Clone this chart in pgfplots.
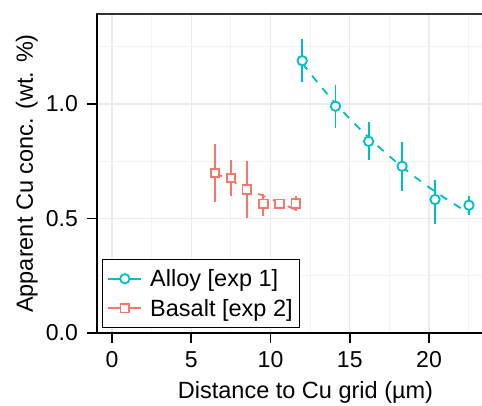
\documentclass[border=0pt]{standalone}
\usepackage{fontspec}
\setmainfont{Liberation Sans}
\usepackage{pgfplots}
\usepackage{pgfplotstable}
\pgfplotsset{compat=1.18}
\definecolor{alloy}{HTML}{00BFC4}
\definecolor{basalt}{HTML}{F8766D}
\definecolor{gmaj}{HTML}{EBEBEB}
\definecolor{gmin}{HTML}{F3F3F3}

\pgfplotstableread{
x y ep em
12.00 1.189 0.096 0.092
14.10 0.990 0.094 0.093
16.19 0.837 0.083 0.081
18.30 0.728 0.106 0.106
20.38 0.583 0.087 0.106
22.52 0.558 0.039 0.041
}\alloydata

\pgfplotstableread{
x y ep em
6.50 0.699 0.127 0.128
7.51 0.677 0.077 0.080
8.50 0.626 0.124 0.126
9.55 0.564 0.041 0.051
10.56 0.564 0.000 0.000
11.59 0.565 0.035 0.033
}\basaltdata

\pgfplotstableread{
x y
12.0 1.178
13.0 1.091
14.0 1.010
15.0 0.935
16.0 0.866
17.0 0.802
18.0 0.742
19.0 0.687
20.0 0.636
21.0 0.589
22.0 0.545
22.5 0.525
}\alloyfit

\pgfplotstableread{
x y
6.5 0.700
7.0 0.682
7.5 0.665
8.0 0.648
8.5 0.632
9.0 0.616
9.5 0.600
10.0 0.585
10.5 0.570
11.0 0.556
11.6 0.538
}\basaltfit

\begin{document}
\begin{tikzpicture}
\useasboundingbox (-97pt,-73pt) rectangle (385pt,333pt);
\begin{axis}[
  at={(0pt,0pt)}, anchor=south west,
  scale only axis, width=417pt, height=319pt,
  xmin=-0.946, xmax=25.36, ymin=0, ymax=1.393,
  xtick={0,5,10,15,20},
  ytick={0,0.5,1.0},
  minor xtick={2.5,7.5,12.5,17.5,22.5},
  minor ytick={0.25,0.75,1.25},
  grid=both,
  major grid style={gmaj, line width=1.1pt},
  minor grid style={gmin, line width=0.8pt},
  tick pos=left,
  tick align=outside,
  major tick length=10pt,
  minor tick length=0pt,
  xtick style={draw=black, line width=1.8pt},
  ytick style={draw=black, line width=1.8pt},
  axis line style={draw=black!80, line width=1.2pt},
  /pgf/number format/assume math mode=true,
  yticklabel style={/pgf/number format/fixed, /pgf/number format/fixed zerofill, /pgf/number format/precision=1},
  ticklabel style={font=\fontsize{23}{26}\selectfont},
  every y tick label/.append style={anchor=east, inner sep=0pt, xshift=-9pt},
  every x tick label/.append style={anchor=north, inner sep=0pt, yshift=-8pt},
  xlabel={Distance to Cu grid (µm)},
  ylabel={Apparent Cu conc. (wt. \%)},
  label style={font=\fontsize{23.5}{27}\selectfont},
  xlabel style={at={(axis description cs:0.5,0)}, anchor=base, yshift=-66pt},
  ylabel style={at={([xshift=-64pt]axis description cs:0,0.5)}, anchor=base},
  legend cell align=left,
  legend style={at={(axis description cs:0,0)}, anchor=south west, xshift=5pt, yshift=5pt,
    draw=black, line width=0.9pt, fill=white,
    font=\fontsize{23.5}{27}\selectfont, inner xsep=5pt, inner ysep=8pt, row sep=7pt,
    nodes={inner sep=2pt},
    /tikz/every odd column/.append style={column sep=6pt}},
  legend image code/.code={
    \draw[#1, mark=none, solid] (0pt,0pt) -- (33pt,0pt);
    \draw[#1, only marks, solid] plot coordinates {(16.5pt,0pt)};
  },
  after end axis/.code={
    \draw[black, line width=2pt] (rel axis cs:0,1) -- (rel axis cs:0,0) -- (rel axis cs:1,0);
  },
]
\addplot[alloy, line width=1.8pt, dash pattern=on 8pt off 8pt, forget plot] table[x=x,y=y] {\alloyfit};
\addplot[basalt, line width=1.8pt, dash pattern=on 8pt off 8pt, forget plot] table[x=x,y=y] {\basaltfit};
\addplot[alloy, only marks, mark=*, mark size=4.7pt, line width=1.8pt, mark options={fill=white, solid},
  error bars/.cd, y dir=both, y explicit, error mark=none,
  error bar style={alloy, line width=1.8pt, solid}]
  table[x=x, y=y, y error plus=ep, y error minus=em] {\alloydata};
\addlegendentry{Alloy [exp 1]}
\addplot[basalt, only marks, mark=square*, mark size=4.3pt, line width=1.8pt, mark options={fill=white, solid},
  error bars/.cd, y dir=both, y explicit, error mark=none,
  error bar style={basalt, line width=1.8pt, solid}]
  table[x=x, y=y, y error plus=ep, y error minus=em] {\basaltdata};
\addlegendentry{Basalt [exp 2]}
\end{axis}
\end{tikzpicture}
\end{document}
